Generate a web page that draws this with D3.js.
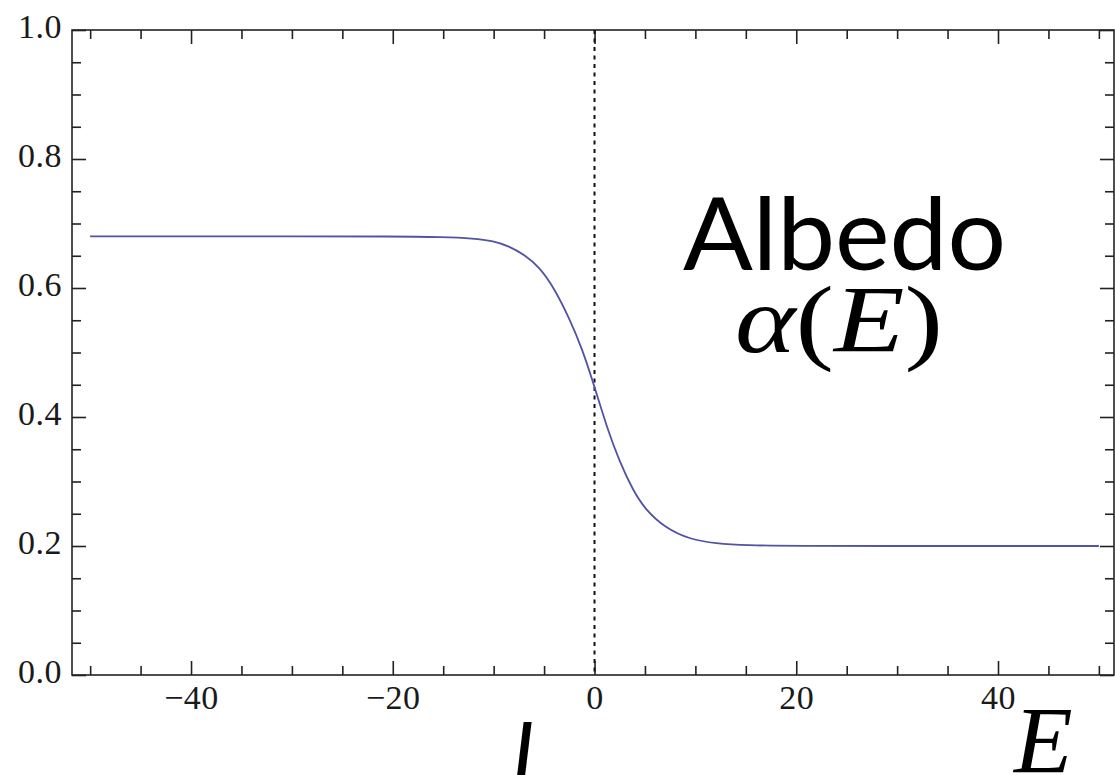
<!DOCTYPE html>
<head>
    <meta charset="utf-8">
    <title>Albedo</title>
    <script src="https://d3js.org/d3.v7.min.js"></script>
    <style>
        body { margin: 0; background: #fff; }
        .ticks text { font-family: "Liberation Serif", Times, serif; font-size: 34px; fill: #1a1a1a; letter-spacing: 0.5px; }
    </style>
</head>
<body>
    <svg class="chart" width="1115" height="775"></svg>
    <script>
        // values
        var energy = [-50, -40, -30, -20, -15, -12, -10, -8.5, -7, -5.5, -4, -2.5, -1.2, 0, 1.2, 2.5, 3.8, 5, 7, 9.5, 12, 15, 20, 30, 40, 50];
        var albedo = [0.68, 0.68, 0.68, 0.68, 0.679, 0.677, 0.673, 0.665, 0.652, 0.633, 0.6, 0.553, 0.505, 0.447, 0.385, 0.33, 0.287, 0.257, 0.228, 0.21, 0.204, 0.201, 0.2, 0.2, 0.2, 0.2];
        var xMajor = [-40, -20, 0, 20, 40];
        var xMinor = [-50, -45, -35, -30, -25, -15, -10, -5, 5, 10, 15, 25, 30, 35, 45, 50];
        var yMajor = [0, 0.2, 0.4, 0.6, 0.8, 1.0];
        var yMinor = [0.05, 0.1, 0.15, 0.25, 0.3, 0.35, 0.45, 0.5, 0.55, 0.65, 0.7, 0.75, 0.85, 0.9, 0.95];

        function drawChart() {
            var mLeft = 72, mRight = 1114, mTop = 30, mBottom = 675;
            var x = d3.scaleLinear().domain([-51.8, 51.5]).range([mLeft, mRight]);
            var y = d3.scaleLinear().domain([0, 1]).range([mBottom, mTop]);

            var svg = d3.select("svg");

            // axes: ticks point inward on all four sides, labels only left/bottom
            function addAxis(axis, tx, ty) {
                var g = svg.append("g")
                    .attr("class", "ticks")
                    .attr("transform", "translate(" + tx + "," + ty + ")")
                    .call(axis);
                g.select(".domain").remove();
                g.selectAll("line").attr("stroke", "#222").attr("stroke-width", 1.6);
                return g;
            }

            addAxis(d3.axisBottom(x).tickValues(xMajor).tickSize(-14).tickPadding(10).tickFormat(d3.format("d")), 0, mBottom);
            addAxis(d3.axisBottom(x).tickValues(xMinor).tickSize(-9).tickFormat(""), 0, mBottom);
            addAxis(d3.axisTop(x).tickValues(xMajor).tickSize(-14).tickFormat(""), 0, mTop);
            addAxis(d3.axisTop(x).tickValues(xMinor).tickSize(-9).tickFormat(""), 0, mTop);

            var yl = addAxis(d3.axisLeft(y).tickValues(yMajor).tickSize(-14).tickPadding(10).tickFormat(d3.format(".1f")), mLeft, 0);
            yl.selectAll("text").attr("dy", "0.22em");
            addAxis(d3.axisLeft(y).tickValues(yMinor).tickSize(-9).tickFormat(""), mLeft, 0);
            addAxis(d3.axisRight(y).tickValues(yMajor).tickSize(-14).tickFormat(""), mRight, 0);
            addAxis(d3.axisRight(y).tickValues(yMinor).tickSize(-9).tickFormat(""), mRight, 0);

            // frame
            svg.append("rect")
                .attr("x", mLeft).attr("y", mTop)
                .attr("width", mRight - mLeft).attr("height", mBottom - mTop)
                .attr("fill", "none")
                .attr("stroke", "#222")
                .attr("stroke-width", 1.6);

            // dashed line at E = 0
            svg.append("line")
                .attr("x1", x(0)).attr("x2", x(0))
                .attr("y1", y(1)).attr("y2", y(0))
                .attr("stroke", "#111")
                .attr("stroke-width", 2)
                .attr("stroke-dasharray", "4,4.5");

            // albedo curve
            var pts = energy.map(function(e, i) { return [e, albedo[i]]; });
            svg.append("path")
                .datum(pts)
                .attr("fill", "none")
                .attr("stroke", "#5252a6")
                .attr("stroke-width", 1.8)
                .attr("d", d3.line()
                    .x(function(d) { return x(d[0]); })
                    .y(function(d) { return y(d[1]); })
                    .curve(d3.curveBasis));

            // labels
            svg.append("text")
                .attr("x", 683).attr("y", 270)
                .attr("font-family", "Lato, 'Open Sans', sans-serif")
                .attr("font-size", 100)
                .attr("textLength", 323)
                .attr("lengthAdjust", "spacingAndGlyphs")
                .attr("fill", "#000")
                .text("Albedo");

            var alpha = svg.append("text")
                .attr("x", 735).attr("y", 352)
                .attr("font-family", "'Liberation Serif', Times, serif")
                .attr("font-size", 96)
                .attr("textLength", 208)
                .attr("lengthAdjust", "spacingAndGlyphs")
                .attr("fill", "#000");
            alpha.append("tspan").attr("font-style", "italic").text("α");
            alpha.append("tspan").text("(");
            alpha.append("tspan").attr("font-style", "italic").text("E");
            alpha.append("tspan").text(")");

            svg.append("text")
                .attr("x", 1014).attr("y", 773)
                .attr("font-family", "'Liberation Serif', Times, serif")
                .attr("font-style", "italic")
                .attr("font-size", 96)
                .attr("fill", "#000")
                .text("E");

            svg.append("text")
                .attr("x", 512).attr("y", 783)
                .attr("font-family", "Lato, sans-serif")
                .attr("font-style", "italic")
                .attr("font-size", 85)
                .attr("fill", "#000")
                .text("I");
        }
        drawChart();
    </script>
</body>
